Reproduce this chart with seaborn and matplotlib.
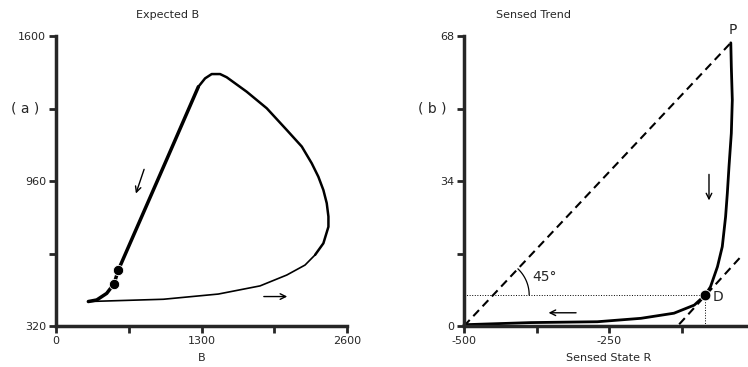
import numpy as np
import matplotlib
matplotlib.use("Agg")
import matplotlib.pyplot as plt
import seaborn as sns

# panel (a): Expected B loop, split into three pieces of different weight
low_x = [289, 959, 1450, 1823, 2062, 2225, 2315]
low_y = [428, 438, 461, 497, 545, 589, 634]
right_x = [2315, 2389, 2434, 2434, 2419, 2389, 2344, 2285, 2196, 2062, 1883,
           1704, 1525, 1466, 1391, 1332, 1272]
right_y = [634, 685, 758, 803, 862, 920, 979, 1038, 1112, 1185, 1281,
           1354, 1418, 1432, 1432, 1413, 1376]
left_x = [1272, 989, 557, 518, 453, 364, 289]
left_y = [1376, 1055, 567, 506, 464, 435, 428]
dots_a_x = [557, 518]
dots_a_y = [567, 506]

# panel (b): Sensed trend vs sensed state
trend_x = [-40, -39.1, -37.4, -39.1, -43.1, -46, -49, -54.7, -63, -75, -84,
           -103, -138, -195, -270, -385, -500]
trend_y = [66.4, 60.8, 53, 45.2, 37.4, 31.1, 25.6, 18.6, 13.9, 9.2, 7.27,
           4.9, 3.0, 1.8, 1.0, 0.8, 0.3]
P = (-40, 66.4)
D = (-84, 7.27)
tangent_x = [-129, -23]
tangent_y = [0.4, 16.2]

sns.set_style("ticks")
plt.rcParams["font.family"] = ["DejaVu Sans"]

fig = plt.figure(figsize=(7.48, 3.67), dpi=100)
ax1 = fig.add_axes([56 / 748, 41 / 367, 291 / 748, 290 / 367])
ax2 = fig.add_axes([464 / 748, 41 / 367, 290 / 748, 290 / 367])

for ax in (ax1, ax2):
    for s in ["top", "right"]:
        ax.spines[s].set_visible(False)
    for s in ["left", "bottom"]:
        ax.spines[s].set_linewidth(2.5)
    ax.tick_params(direction="out", length=5, width=2, labelsize=8, pad=2)

# ---- panel a
sns.lineplot(x=low_x, y=low_y, sort=False, estimator=None, color="black", lw=1.2, ax=ax1)
sns.lineplot(x=right_x, y=right_y, sort=False, estimator=None, color="black", lw=1.8, ax=ax1)
sns.lineplot(x=left_x, y=left_y, sort=False, estimator=None, color="black", lw=2.5, ax=ax1)
sns.scatterplot(x=dots_a_x, y=dots_a_y, color="black", s=55, ax=ax1, zorder=5)
ax1.annotate("", xy=(706, 893), xytext=(795, 1023),
             arrowprops=dict(arrowstyle="->", color="black", lw=1))
ax1.annotate("", xy=(2091, 450), xytext=(1832, 450),
             arrowprops=dict(arrowstyle="->", color="black", lw=1))
ax1.set_xlim(0, 2600)
ax1.set_ylim(320, 1600)
ax1.set_xticks([0, 650, 1300, 1950, 2600], ["0", "", "1300", "", "2600"])
ax1.set_yticks([320, 640, 960, 1280, 1600], ["320", "", "960", "", "1600"])
ax1.set_xlabel("B", fontsize=8, labelpad=5)
ax1.text(0.385, 1.072, "Expected B", transform=ax1.transAxes, ha="center", va="center", fontsize=8)
ax1.text(-0.105, 0.75, "( a )", transform=ax1.transAxes, ha="center", va="center", fontsize=10)

# ---- panel b
sns.lineplot(x=trend_x, y=trend_y, sort=False, estimator=None, color="black", lw=2.0,
             ax=ax2, clip_on=False)
ax2.plot([-500, P[0]], [0, P[1]], color="black", ls=(0, (4, 2.5)), lw=1.5)
ax2.plot(tangent_x, tangent_y, color="black", ls=(0, (4, 2.5)), lw=1.5, clip_on=False)
ax2.plot([-500, D[0]], [D[1], D[1]], color="black", ls=":", lw=0.7)
ax2.plot([D[0], D[0]], [0, D[1]], color="black", ls=":", lw=0.7)
sns.scatterplot(x=[D[0]], y=[D[1]], color="black", s=60, ax=ax2, zorder=5)
ax2.text(D[0] + 12, D[1] - 0.5, "D", fontsize=10, va="center")
ax2.text(P[0] + 3, P[1] + 3, "P", fontsize=10, ha="center", va="center", clip_on=False)

# 45 degree arc where the diagonal meets the dotted line
slope = P[1] / (P[0] + 500)
cx = -500 + D[1] / slope
rx, ry = 62, 8.44
t_end = np.arctan(slope * rx / ry)
t = np.linspace(0, t_end, 40)
ax2.plot(cx + rx * np.cos(t), D[1] + ry * np.sin(t), color="black", lw=0.9)
ax2.text(-383, 11.5, "45°", fontsize=10, va="center")

ax2.annotate("", xy=(-77.6, 28.8), xytext=(-77.6, 36.2),
             arrowprops=dict(arrowstyle="->", color="black", lw=1))
ax2.annotate("", xy=(-359, 3.1), xytext=(-302, 3.1),
             arrowprops=dict(arrowstyle="->", color="black", lw=1))

ax2.set_xlim(-500, 0)
ax2.set_ylim(0, 68)
ax2.set_xticks([-500, -375, -250, -125], ["-500", "", "-250", ""])
ax2.set_yticks([0, 17, 34, 51, 68], ["0", "", "34", "", "68"])
ax2.set_xlabel("Sensed State R", fontsize=8, labelpad=5)
ax2.text(0.241, 1.072, "Sensed Trend", transform=ax2.transAxes, ha="center", va="center", fontsize=8)
ax2.text(-0.11, 0.75, "( b )", transform=ax2.transAxes, ha="center", va="center", fontsize=10)

fig.savefig("out.png", dpi=100)
